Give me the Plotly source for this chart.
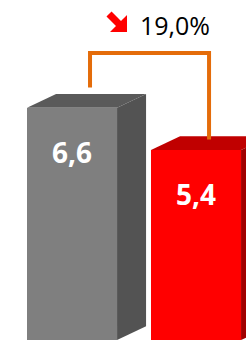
import plotly.graph_objects as go

# ---- data ----
categories = ["Prima", "Dopo"]
values = [6.6, 5.4]
value_labels = ["6,6", "5,4"]
change_label = "19,0%"

# ---- style ----
W, H = 246, 343
front_colors = ["#7F7F7F", "#FF0000"]
top_colors = ["#5A5A5A", "#C00000"]
side_colors = ["#535353", "#A00000"]
bar_w = 0.726
dx, dy = 0.234, 0.391          # 3D depth offsets in axis units
orange = "#E46C0A"

xs = list(range(len(categories)))
fig = go.Figure()

# front faces
fig.add_trace(go.Bar(x=xs, y=values, width=bar_w, marker=dict(color=front_colors, line=dict(width=0)),
                     hoverinfo="skip", showlegend=False))

# top and side faces
for i, v in zip(xs, values):
    l, r = i - bar_w / 2, i + bar_w / 2
    fig.add_trace(go.Scatter(x=[l, l + dx, r + dx, r, l], y=[v, v + dy, v + dy, v, v], mode="lines",
                             fill="toself", fillcolor=top_colors[i], line=dict(width=0),
                             hoverinfo="skip", showlegend=False))
    fig.add_trace(go.Scatter(x=[r, r + dx, r + dx, r, r], y=[0, dy, v + dy, v, 0], mode="lines",
                             fill="toself", fillcolor=side_colors[i], line=dict(width=0),
                             hoverinfo="skip", showlegend=False))

# bracket
top_y = max(values) + 1.56
bx = [xs[0] + 0.145, xs[0] + 0.145, xs[1] + 0.105, xs[1] + 0.105]
by = [values[0] + 0.58, top_y, top_y, values[1] + 0.30]
fig.add_trace(go.Scatter(x=bx, y=by, mode="lines", line=dict(color=orange, width=4),
                         hoverinfo="skip", showlegend=False))

# value labels
for i, v in zip(xs, values):
    fig.add_annotation(x=i, y=v, text=value_labels[i], showarrow=False, yshift=-44,
                       font=dict(family="Open Sans", size=28, color="white", weight="bold"))

# change label
fig.add_annotation(x=0.83, y=top_y, text=change_label, showarrow=False, yshift=28,
                   font=dict(family="Open Sans", size=25, color="black"))

# decorative down arrow (pixel outline -> paper coords)
arrow_px = [(127, 32), (110, 32), (116, 26), (106.5, 16.5), (111.5, 11.5), (121, 21), (127, 15)]
path = "M " + " L ".join(f"{px / W:.4f},{1 - py / H:.4f}" for px, py in arrow_px) + " Z"
fig.add_shape(type="path", path=path, xref="paper", yref="paper",
              fillcolor="#FF0000", line=dict(width=0))

fig.update_layout(
    width=W, height=H, autosize=False,
    margin=dict(l=0, r=0, t=0, b=0),
    paper_bgcolor="white", plot_bgcolor="white",
    xaxis=dict(range=[-0.581, 1.403], visible=False, fixedrange=True),
    yaxis=dict(range=[-0.084, 9.665], visible=False, fixedrange=True),
    bargap=0,
)
fig.write_html("out.html", config={"displayModeBar": False},
               post_script="document.body.style.margin='0';")
